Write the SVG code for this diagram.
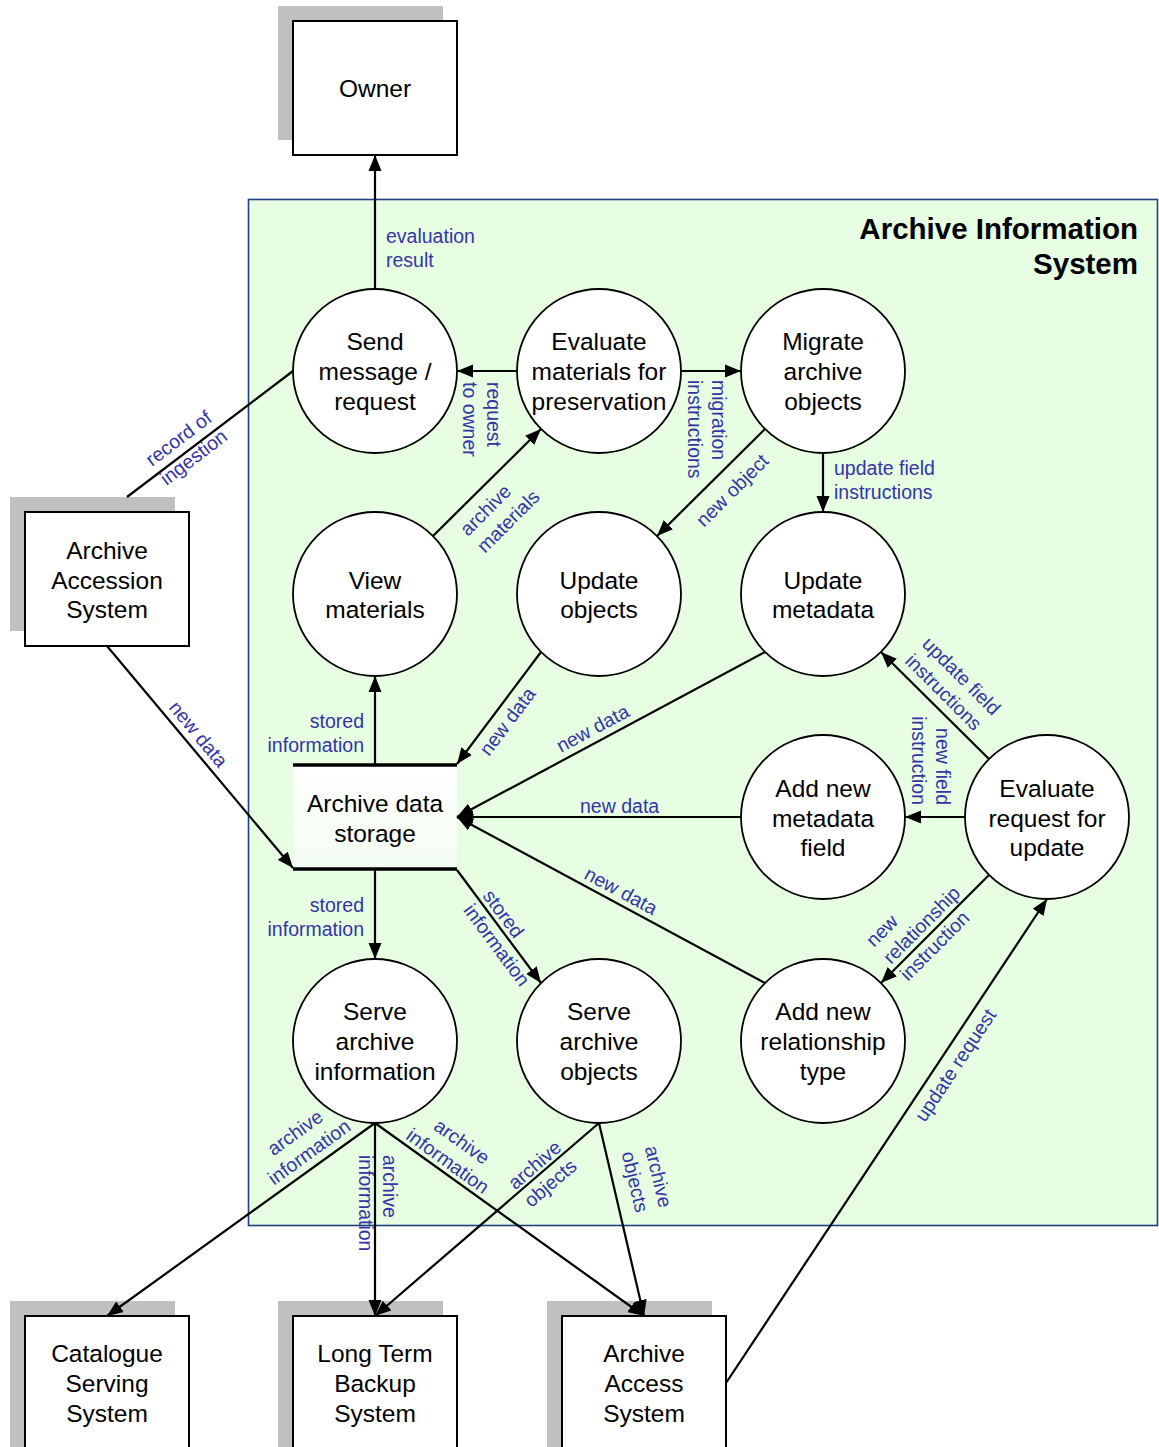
<svg xmlns="http://www.w3.org/2000/svg" width="1159" height="1447" viewBox="0 0 1159 1447">
  <style>
    .shadow { fill: #c0c0c0; }
    .box { fill: #ffffff; stroke: #000000; stroke-width: 2; }
    .proc { fill: #ffffff; stroke: #000000; stroke-width: 1.8; }
    .ntext { font-family: "Liberation Sans", Arial, sans-serif; font-size: 24.5px; fill: #000000; text-anchor: middle; }
    .title { font-family: "Liberation Sans", Arial, sans-serif; font-size: 29.5px; font-weight: bold; fill: #000000; text-anchor: end; }
    .lbl { font-family: "Liberation Sans", Arial, sans-serif; font-size: 19.5px; fill: #3535a5; }
    .mid { text-anchor: middle; }
    .end { text-anchor: end; }
    .flow { stroke: #000000; stroke-width: 2.2; fill: none; }
    .arrow { marker-end: url(#head); }
  </style>
  <defs>
    <marker id="head" markerUnits="userSpaceOnUse" markerWidth="17" markerHeight="14" refX="16" refY="7" orient="auto">
      <path d="M0,0.5 L16,7 L0,13.5 z" fill="#000000"/>
    </marker>
    <linearGradient id="storeFill" x1="0" y1="0" x2="0" y2="1">
      <stop offset="0" stop-color="#ffffff"/>
      <stop offset="1" stop-color="#f3fdf1"/>
    </linearGradient>
  </defs>

  <!-- system boundary -->
  <g id="archive-information-system">
    <rect x="248.5" y="199.5" width="909" height="1026" fill="#e7fee3" stroke="#1f3f7f" stroke-width="1.6"/>
    <text class="title" x="1138" y="239">Archive Information</text>
    <text class="title" x="1138" y="274">System</text>
  </g>

  <!-- external entities -->
  <g id="owner">
    <rect class="shadow" x="278" y="6" width="165" height="134"/>
    <rect class="box" x="293" y="21" width="164" height="134"/>
    <text class="ntext" x="375" y="97">Owner</text>
  </g>
  <g id="archive-accession-system">
    <rect class="shadow" x="10" y="497" width="165" height="134"/>
    <rect class="box" x="25" y="512" width="164" height="134"/>
    <text class="ntext" x="107" y="559">Archive</text>
    <text class="ntext" x="107" y="589">Accession</text>
    <text class="ntext" x="107" y="618">System</text>
  </g>
  <g id="catalogue-serving-system">
    <rect class="shadow" x="10" y="1301" width="165" height="150"/>
    <rect class="box" x="25" y="1316" width="164" height="150"/>
    <text class="ntext" x="107" y="1362">Catalogue</text>
    <text class="ntext" x="107" y="1392">Serving</text>
    <text class="ntext" x="107" y="1422">System</text>
  </g>
  <g id="long-term-backup-system">
    <rect class="shadow" x="278" y="1301" width="165" height="150"/>
    <rect class="box" x="293" y="1316" width="164" height="150"/>
    <text class="ntext" x="375" y="1362">Long Term</text>
    <text class="ntext" x="375" y="1392">Backup</text>
    <text class="ntext" x="375" y="1422">System</text>
  </g>
  <g id="archive-access-system">
    <rect class="shadow" x="547" y="1301" width="165" height="150"/>
    <rect class="box" x="562" y="1316" width="164" height="150"/>
    <text class="ntext" x="644" y="1362">Archive</text>
    <text class="ntext" x="644" y="1392">Access</text>
    <text class="ntext" x="644" y="1422">System</text>
  </g>

  <!-- processes -->
  <g id="send-message">
    <circle class="proc" cx="375" cy="371" r="82"/>
    <text class="ntext" x="375" y="350">Send</text>
    <text class="ntext" x="375" y="380">message /</text>
    <text class="ntext" x="375" y="410">request</text>
  </g>
  <g id="evaluate-materials">
    <circle class="proc" cx="599" cy="371" r="82"/>
    <text class="ntext" x="599" y="350">Evaluate</text>
    <text class="ntext" x="599" y="380">materials for</text>
    <text class="ntext" x="599" y="410">preservation</text>
  </g>
  <g id="migrate-archive-objects">
    <circle class="proc" cx="823" cy="371" r="82"/>
    <text class="ntext" x="823" y="350">Migrate</text>
    <text class="ntext" x="823" y="380">archive</text>
    <text class="ntext" x="823" y="410">objects</text>
  </g>
  <g id="view-materials">
    <circle class="proc" cx="375" cy="594" r="82"/>
    <text class="ntext" x="375" y="589">View</text>
    <text class="ntext" x="375" y="618">materials</text>
  </g>
  <g id="update-objects">
    <circle class="proc" cx="599" cy="594" r="82"/>
    <text class="ntext" x="599" y="589">Update</text>
    <text class="ntext" x="599" y="618">objects</text>
  </g>
  <g id="update-metadata">
    <circle class="proc" cx="823" cy="594" r="82"/>
    <text class="ntext" x="823" y="589">Update</text>
    <text class="ntext" x="823" y="618">metadata</text>
  </g>
  <g id="add-metadata-field">
    <circle class="proc" cx="823" cy="817" r="82"/>
    <text class="ntext" x="823" y="797">Add new</text>
    <text class="ntext" x="823" y="827">metadata</text>
    <text class="ntext" x="823" y="856">field</text>
  </g>
  <g id="evaluate-request">
    <circle class="proc" cx="1047" cy="817" r="82"/>
    <text class="ntext" x="1047" y="797">Evaluate</text>
    <text class="ntext" x="1047" y="827">request for</text>
    <text class="ntext" x="1047" y="856">update</text>
  </g>
  <g id="serve-archive-information">
    <circle class="proc" cx="375" cy="1041" r="82"/>
    <text class="ntext" x="375" y="1020">Serve</text>
    <text class="ntext" x="375" y="1050">archive</text>
    <text class="ntext" x="375" y="1080">information</text>
  </g>
  <g id="serve-archive-objects">
    <circle class="proc" cx="599" cy="1041" r="82"/>
    <text class="ntext" x="599" y="1020">Serve</text>
    <text class="ntext" x="599" y="1050">archive</text>
    <text class="ntext" x="599" y="1080">objects</text>
  </g>
  <g id="add-relationship-type">
    <circle class="proc" cx="823" cy="1041" r="82"/>
    <text class="ntext" x="823" y="1020">Add new</text>
    <text class="ntext" x="823" y="1050">relationship</text>
    <text class="ntext" x="823" y="1080">type</text>
  </g>

  <!-- data store -->
  <g id="archive-data-storage">
    <rect x="293" y="765" width="164" height="104" fill="url(#storeFill)"/>
    <line x1="293" y1="765" x2="457" y2="765" stroke="#000000" stroke-width="3.5"/>
    <line x1="293" y1="869" x2="457" y2="869" stroke="#000000" stroke-width="3.5"/>
    <text class="ntext" x="375" y="812">Archive data</text>
    <text class="ntext" x="375" y="842">storage</text>
  </g>

  <!-- data flows -->
  <g id="connectors">
    <line class="flow arrow" x1="375" y1="289" x2="375" y2="155"/>
    <line class="flow arrow" x1="517" y1="371" x2="457" y2="371"/>
    <line class="flow arrow" x1="681" y1="371" x2="741" y2="371"/>
    <line class="flow arrow" x1="823" y1="453" x2="823" y2="512"/>
    <line class="flow arrow" x1="765" y1="429" x2="657" y2="536"/>
    <line class="flow arrow" x1="433" y1="536" x2="541" y2="429"/>
    <line class="flow" x1="293" y1="371" x2="127" y2="497"/>
    <line class="flow arrow" x1="375" y1="764" x2="375" y2="676"/>
    <line class="flow arrow" x1="541" y1="652" x2="457" y2="764"/>
    <line class="flow arrow" x1="765" y1="652" x2="457" y2="817"/>
    <line class="flow arrow" x1="741" y1="817" x2="457" y2="817"/>
    <line class="flow arrow" x1="765" y1="983" x2="457" y2="817"/>
    <line class="flow arrow" x1="989" y1="759" x2="881" y2="652"/>
    <line class="flow arrow" x1="965" y1="817" x2="905" y2="817"/>
    <line class="flow arrow" x1="989" y1="875" x2="881" y2="983"/>
    <line class="flow arrow" x1="107" y1="646" x2="293" y2="868"/>
    <line class="flow arrow" x1="375" y1="870" x2="375" y2="959"/>
    <line class="flow arrow" x1="457" y1="870" x2="541" y2="983"/>
    <line class="flow arrow" x1="375" y1="1123" x2="107" y2="1316"/>
    <line class="flow arrow" x1="375" y1="1123" x2="375" y2="1316"/>
    <line class="flow arrow" x1="375" y1="1123" x2="644" y2="1316"/>
    <line class="flow arrow" x1="599" y1="1123" x2="375" y2="1316"/>
    <line class="flow arrow" x1="599" y1="1123" x2="644" y2="1316"/>
    <line class="flow arrow" x1="726" y1="1383" x2="1047" y2="899"/>
  </g>

  <!-- flow labels -->
  <g id="flow-labels">
    <text class="lbl" x="386" y="243">evaluation</text>
    <text class="lbl" x="386" y="267">result</text>

    <g transform="translate(487,382) rotate(90)">
      <text class="lbl" x="0" y="0">request</text>
      <text class="lbl" x="0" y="24">to owner</text>
    </g>
    <g transform="translate(712,380) rotate(90)">
      <text class="lbl" x="0" y="0">migration</text>
      <text class="lbl" x="0" y="24">instructions</text>
    </g>

    <text class="lbl" x="834" y="475">update field</text>
    <text class="lbl" x="834" y="499">instructions</text>

    <text class="lbl" transform="translate(704,528) rotate(-45)">new object</text>

    <g transform="translate(468,537) rotate(-45)">
      <text class="lbl" x="0" y="0">archive</text>
      <text class="lbl" x="0" y="24">materials</text>
    </g>

    <g transform="translate(152,467) rotate(-37.2)">
      <text class="lbl" x="0" y="0">record of</text>
      <text class="lbl" x="0" y="24">ingestion</text>
    </g>

    <text class="lbl end" x="364" y="728">stored</text>
    <text class="lbl end" x="364" y="752">information</text>

    <text class="lbl" transform="translate(489,757) rotate(-53)">new data</text>
    <text class="lbl" transform="translate(561,753) rotate(-28.2)">new data</text>
    <text class="lbl" x="580" y="813">new data</text>
    <text class="lbl" transform="translate(583,878) rotate(28.3)">new data</text>

    <g transform="translate(921,645) rotate(45)">
      <text class="lbl" x="0" y="0">update field</text>
      <text class="lbl" x="0" y="24">instructions</text>
    </g>
    <g transform="translate(936,805) rotate(90)">
      <text class="lbl end" x="0" y="0">new field</text>
      <text class="lbl end" x="0" y="24">instruction</text>
    </g>
    <g transform="translate(874,948) rotate(-45)">
      <text class="lbl" x="0" y="0">new</text>
      <text class="lbl" x="0" y="24">relationship</text>
      <text class="lbl" x="0" y="48">instruction</text>
    </g>

    <text class="lbl" transform="translate(168,708) rotate(50.2)">new data</text>

    <text class="lbl end" x="364" y="912">stored</text>
    <text class="lbl end" x="364" y="936">information</text>

    <g transform="translate(482,896) rotate(53.4)">
      <text class="lbl" x="0" y="0">stored</text>
      <text class="lbl" x="0" y="24">information</text>
    </g>

    <text class="lbl" transform="translate(925,1123) rotate(-56.4)">update request</text>

    <g transform="translate(299,1138) rotate(-35.8)">
      <text class="lbl mid" x="0" y="0">archive</text>
      <text class="lbl mid" x="0" y="24">information</text>
    </g>
    <g transform="translate(383,1155) rotate(90)">
      <text class="lbl" x="0" y="0">archive</text>
      <text class="lbl" x="0" y="24">information</text>
    </g>
    <g transform="translate(458,1147) rotate(35.7)">
      <text class="lbl mid" x="0" y="0">archive</text>
      <text class="lbl mid" x="0" y="24">information</text>
    </g>
    <g transform="translate(539,1170) rotate(-40.7)">
      <text class="lbl mid" x="0" y="0">archive</text>
      <text class="lbl mid" x="0" y="24">objects</text>
    </g>
    <g transform="translate(652,1178) rotate(76.9)">
      <text class="lbl mid" x="0" y="0">archive</text>
      <text class="lbl mid" x="0" y="24">objects</text>
    </g>
  </g>
</svg>
